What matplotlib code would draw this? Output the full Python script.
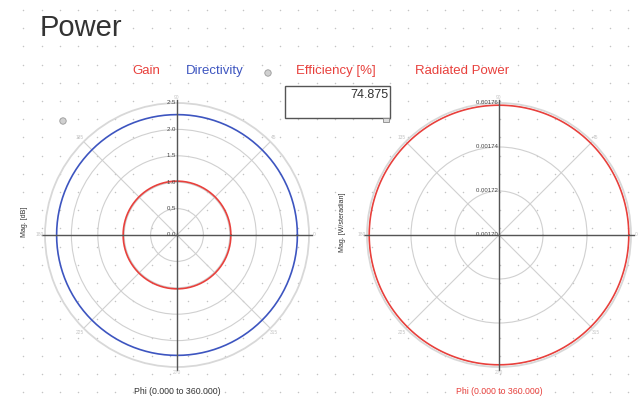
import numpy as np
import matplotlib.pyplot as plt
from matplotlib.patches import Rectangle, Circle

plt.rcParams["font.family"] = ["Liberation Sans", "DejaVu Sans"]

# antenna far-field summary values
phi_deg = np.arange(0, 361, 1)
gain_db = 1.02
directivity_db = 2.28
efficiency_pct = 74.875
radiated_power_w = 0.001759

# radial scales of the two polar plots
db_ticks = [0.0, 0.5, 1.0, 1.5, 2.0, 2.5]
db_labels = ["0.0", "0.5", "1.0", "1.5", "2.0", "2.5"]
w_ticks = [0.00170, 0.00172, 0.00174, 0.00176]
w_labels = ["0.00170", "0.00172", "0.00174", "0.00176"]
angle_ticks = [0, 45, 90, 135, 180, 225, 270, 315]

RED = "#e8403c"
BLUE = "#3d55c0"
W, H = 639, 404

fig = plt.figure(figsize=(W / 100, H / 100), dpi=100)
fig.patch.set_facecolor("white")

# page background with the dotted layout grid
bg = fig.add_axes([0, 0, 1, 1])
bg.set_xlim(0, W)
bg.set_ylim(H, 0)
bg.axis("off")
gx, gy = np.meshgrid(np.arange(23.3, W, 18.33), np.arange(10, H, 18.2))
bg.scatter(gx.ravel(), gy.ravel(), s=1.2, color="#c4c4c4", linewidths=0, zorder=0)

bg.text(40, 36, "Power", fontsize=21, color="#333333", ha="left", va="baseline")
bg.text(146, 71, "Gain", fontsize=9.5, color=RED, ha="center", va="center")
bg.text(215, 71, "Directivity", fontsize=9.5, color=BLUE, ha="center", va="center")
bg.text(336, 71, "Efficiency [%]", fontsize=9.5, color=RED, ha="center", va="center")
bg.text(462, 71, "Radiated Power", fontsize=9.5, color=RED, ha="center", va="center")

# efficiency readout box
bg.add_patch(Rectangle((285, 86), 105, 32, facecolor="white", edgecolor="#555555", lw=1.0, zorder=2))
bg.text(388, 95, f"{efficiency_pct:.3f}", fontsize=9, color="#333333", ha="right", va="center", zorder=3)
bg.add_patch(Rectangle((383, 118), 6, 4, facecolor="#dddddd", edgecolor="#888888", lw=0.6, zorder=3))

# selection handles
for cx, cy in [(268, 73), (63, 121)]:
    bg.add_patch(Circle((cx, cy), 3.2, facecolor="#d0d0d0", edgecolor="#999999", lw=0.6, zorder=2))

theta = np.deg2rad(phi_deg)


def polar_panel(center_x, ticks, labels, ylabel, ylabel_x, xcolor):
    r_px = 132
    ax = fig.add_axes(
        [(center_x - r_px) / W, (H - 235 - r_px) / H, 2 * r_px / W, 2 * r_px / H],
        projection="polar",
    )
    ax.patch.set_alpha(0)
    ax.set_rlim(ticks[0], ticks[-1])
    ax.set_rticks(ticks[1:-1])
    ax.set_yticklabels([])
    ax.set_thetagrids(angle_ticks, labels=[""] * len(angle_ticks))
    ax.grid(True, color="#d0d0d0", lw=0.8)
    ax.spines["polar"].set_color("#d8d8d8")
    ax.spines["polar"].set_linewidth(1.3)
    ax.tick_params(length=0, pad=0)

    # dark cross-hair axes
    rext = ticks[0] + (ticks[-1] - ticks[0]) * 1.02
    for a in (0, np.pi / 2, np.pi, 3 * np.pi / 2):
        ax.plot([a, a], [ticks[0], rext], color="#555555", lw=1.0, zorder=3, clip_on=False)

    for t, lab in zip(ticks, labels):
        ax.text(np.pi / 2, t, lab + " ", fontsize=4.3, color="#444444",
                ha="right", va="center", zorder=4, clip_on=False)

    rlab = ticks[0] + (ticks[-1] - ticks[0]) * 1.04
    for a in angle_ticks:
        ax.text(np.deg2rad(a), rlab, str(a), fontsize=3.5, color="#c4c4c4",
                ha="center", va="center", clip_on=False)

    bg.text(ylabel_x, 222, ylabel, fontsize=5, color="#333333", rotation=90,
            ha="center", va="center")
    bg.text(center_x, 392, "Phi (0.000 to 360.000)", fontsize=6.3, color=xcolor,
            ha="center", va="center")
    return ax


ax1 = polar_panel(177, db_ticks, db_labels, "Mag. [dB]", 25, "#333333")
ax1.plot(theta, np.full_like(theta, directivity_db), color=BLUE, lw=1.2, zorder=2)
ax1.plot(theta, np.full_like(theta, gain_db), color=RED, lw=1.2, zorder=2)

ax2 = polar_panel(499, w_ticks, w_labels, "Mag. [W/steradian]", 342, RED)
ax2.plot(theta, np.full_like(theta, radiated_power_w), color=RED, lw=1.2, zorder=2)

fig.savefig("out.png", dpi=100)
